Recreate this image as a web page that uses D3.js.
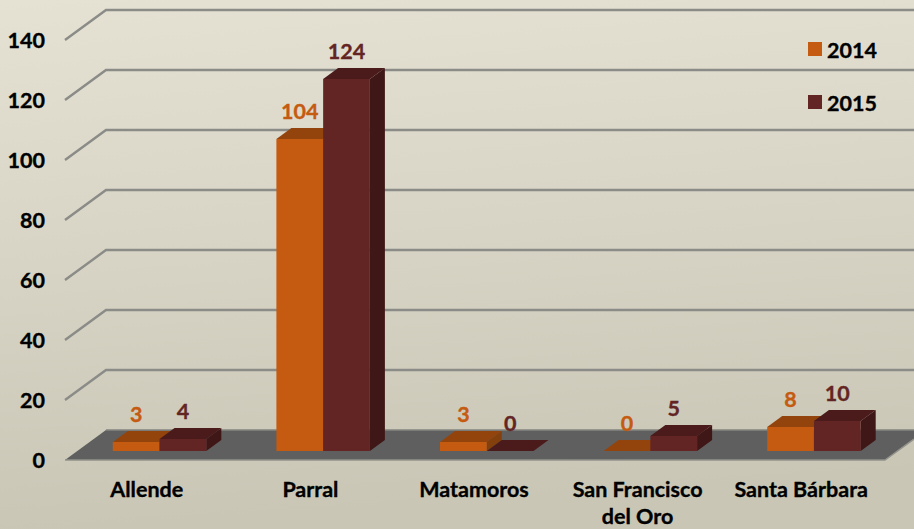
<!DOCTYPE html>
<html><head><meta charset="utf-8">
<script src="https://cdn.jsdelivr.net/npm/d3@7/dist/d3.min.js"></script>
<style>html,body{margin:0;padding:0;overflow:hidden}svg{display:block;font-family:Lato,"Open Sans",sans-serif;font-weight:700}</style>
</head><body><svg id="c" width="914" height="529"></svg>
<script>
const categories = ["Allende","Parral","Matamoros","San Francisco|del Oro","Santa Bárbara"];
const years = ["2014","2015"];
const values2014 = [3,104,3,0,8];
const values2015 = [4,124,0,5,10];
const tickValues = [0,20,40,60,80,100,120,140];
const seriesFront = ["#c55a11","#632523"];
const seriesTop = ["#93440d","#4a1b1a"];
const seriesSide = ["#84400c","#3f1716"];

const svg = d3.select("#c");
const W = 914, H = 529;
const defs = svg.append("defs");
const g = defs.append("linearGradient").attr("id","bg").attr("x1","0").attr("y1","0").attr("x2","0.12").attr("y2","1");
g.append("stop").attr("offset","0").attr("stop-color","#e5e2d4");
g.append("stop").attr("offset","1").attr("stop-color","#c9c6b6");
svg.append("rect").attr("width",W).attr("height",H).attr("fill","url(#bg)");

const y = d3.scaleLinear().domain([0,140]).range([460,40]);
const x = d3.scaleBand().domain(categories).range([65,883]);
const wall = {dx:41, dy:-30};
const barDepth = {dx:15, dy:-11};
const barBase = {dx:13, dy:-9};
const inner = d3.scaleBand().domain(years).range([0,93.5]);
const heavy = s => s.attr("stroke",s.attr("fill")).attr("stroke-width",0.35);

// gridlines and wall
tickValues.forEach(t=>{
  if(t===0) return;
  const yy = y(t);
  svg.append("polyline").attr("points",[[65,yy],[65+wall.dx,yy+wall.dy],[W,yy+wall.dy]].join(" ")).attr("fill","none")
    .attr("stroke","#8b8b87").attr("stroke-width",2.4);
});
// floor
svg.append("polygon")
  .attr("points",[[65,y(0)],[885,y(0)],[885+wall.dx,y(0)+wall.dy],[65+wall.dx,y(0)+wall.dy]].join(" "))
  .attr("fill","#5f5f5f");
svg.append("polyline").attr("points",[[65,y(0)],[885,y(0)],[W,y(0)-21]].join(" "))
  .attr("fill","none").attr("stroke","#93938c").attr("stroke-width",1.5);
svg.append("line").attr("x1",65+wall.dx).attr("x2",W).attr("y1",y(0)+wall.dy).attr("y2",y(0)+wall.dy)
  .attr("stroke","#85857f").attr("stroke-width",1.5);

// axis tick labels
const axis = d3.axisLeft(y).tickValues(tickValues).tickSize(0).tickPadding(0);
const ag = svg.append("g").attr("transform","translate(45,0)").call(axis);
ag.select(".domain").remove();
ag.selectAll("text").attr("font-size",21.5).attr("font-family","Lato").attr("font-weight",700).attr("fill","#000").attr("dy","0.36em")
  .attr("stroke","#000").attr("stroke-width",0.35);

// category labels
categories.forEach(c=>{
  const lines = c.split("|");
  const t = svg.append("text").attr("text-anchor","middle").attr("font-size",21.5).attr("fill","#000");
  heavy(t);
  lines.forEach((l,i)=>t.append("tspan").attr("x",x(c)+x.bandwidth()/2).attr("y",497+i*27).text(l));
});

// bars
const series = [values2014, values2015];
categories.forEach((c,ci)=>{
  years.forEach((yr,si)=>{
    const v = series[si][ci];
    const x0 = x(c)+x.bandwidth()/2-34+inner(yr);
    const w = inner.bandwidth();
    const base = y(0)+barBase.dy;
    const top = base-(y(0)-y(v));
    const d = barDepth;
    if(v>0) svg.append("polygon").attr("points",[[x0+w,base],[x0+w+d.dx,base+d.dy],[x0+w+d.dx,top+d.dy],[x0+w,top]].join(" ")).attr("fill",seriesSide[si]);
    svg.append("polygon").attr("points",[[x0,top],[x0+d.dx,top+d.dy],[x0+w+d.dx,top+d.dy],[x0+w,top]].join(" ")).attr("fill",seriesTop[si]);
    if(v>0) svg.append("rect").attr("x",x0).attr("y",top).attr("width",w).attr("height",base-top).attr("fill",seriesFront[si]);
    const lab = svg.append("text").attr("x",x0+w/2).attr("y",top+d.dy-16.5).attr("dy","0.35em")
      .attr("text-anchor","middle").attr("font-size",21.5).attr("fill",seriesFront[si]).text(v);
    heavy(lab);
  });
});

// legend
const legendY = d3.scalePoint().domain(years).range([49,102]);
years.forEach((yr,i)=>{
  svg.append("rect").attr("x",808).attr("y",legendY(yr)-7).attr("width",14).attr("height",14).attr("fill",seriesFront[i]);
  const t = svg.append("text").attr("x",827).attr("y",legendY(yr)+1).attr("dy","0.36em").attr("font-size",21.5).attr("fill","#000").text(yr);
  heavy(t);
});
</script></body></html>
